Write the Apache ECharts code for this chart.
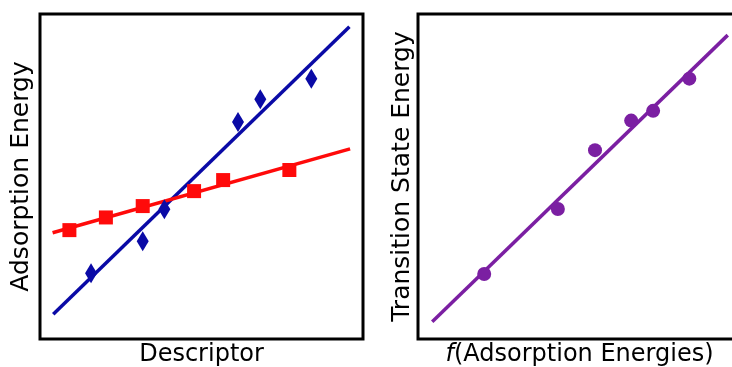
<!DOCTYPE html>
<html>
<head>
<meta charset="utf-8">
<style>
  html, body { margin: 0; padding: 0; background: #fff; }
  #chart { width: 732px; height: 367px; }
</style>
<script src="https://cdn.jsdelivr.net/npm/echarts@6/dist/echarts.min.js"></script>
</head>
<body>
<div id="chart"></div>
<script>
// Left panel: adsorption energies of two species against a descriptor
const diamondX = [15.8, 31.8, 38.5, 61.3, 68.2, 84.0];
const diamondY = [20.2, 30.1, 39.9, 66.8, 73.8, 80.1];
const squareX = [9.1, 20.4, 31.8, 47.7, 56.7, 77.2];
const squareY = [33.5, 37.4, 40.9, 45.5, 48.9, 52.0];
// Linear fits (start and end points)
const blueFitX = [4.1, 95.8];
const blueFitY = [7.6, 96.1];
const redFitX = [3.9, 96.0];
const redFitY = [32.7, 58.5];

// Right panel: transition state energy against a function of adsorption energies
const circleX = [20.5, 43.3, 54.8, 66.0, 72.8, 84.0];
const circleY = [20.0, 40.0, 58.1, 67.2, 70.2, 80.1];
const purpleFitX = [4.4, 95.9];
const purpleFitY = [5.3, 93.5];

const leftXName = 'Descriptor';
const leftYName = 'Adsorption Energy';
const rightXName = '{i|f}(Adsorption Energies)';
const rightYName = 'Transition State Energy';

const BLUE = '#0a0aa6';
const RED = '#ff0a0a';
const PURPLE = '#7b1fa2';
const FONT = 'DejaVu Sans';
const FS_X = 24;
const FS_Y = 25;

const pairs = (xs, ys) => xs.map((x, i) => [x, ys[i]]);

function makeX(gridIndex, name) {
  return {
    gridIndex, type: 'value', min: 0, max: 100,
    name, nameLocation: 'middle', nameGap: 4,
    nameTextStyle: {
      fontFamily: FONT, fontSize: FS_X, color: '#000',
      rich: { i: { fontFamily: FONT, fontSize: FS_X, fontStyle: 'italic', color: '#000' } }
    },
    axisLine: { show: false }, axisTick: { show: false },
    axisLabel: { show: false }, splitLine: { show: false }
  };
}
function makeY(gridIndex, name, gap) {
  return {
    gridIndex, type: 'value', min: 0, max: 100,
    name, nameLocation: 'middle', nameGap: gap, nameRotate: 90,
    nameTextStyle: { fontFamily: FONT, fontSize: FS_Y, color: '#000' },
    axisLine: { show: false }, axisTick: { show: false },
    axisLabel: { show: false }, splitLine: { show: false }
  };
}

const gridBase = {
  top: 14, height: 325, show: true, borderColor: '#000', borderWidth: 3,
  backgroundColor: 'transparent', containLabel: false, outerBoundsMode: 'none'
};

const chart = echarts.init(document.getElementById('chart'), null, { renderer: 'canvas' });
chart.setOption({
  animation: false,
  backgroundColor: '#fff',
  grid: [
    Object.assign({ left: 40, width: 323 }, gridBase),
    Object.assign({ left: 418, width: 323 }, gridBase)
  ],
  xAxis: [makeX(0, leftXName), makeX(1, rightXName)],
  yAxis: [makeY(0, leftYName, 6), makeY(1, rightYName, 3)],
  series: [
    { type: 'line', xAxisIndex: 0, yAxisIndex: 0, data: pairs(blueFitX, blueFitY), showSymbol: false, lineStyle: { color: BLUE, width: 3.5 }, z: 2 },
    { type: 'line', xAxisIndex: 0, yAxisIndex: 0, data: pairs(redFitX, redFitY), showSymbol: false, lineStyle: { color: RED, width: 3.5 }, z: 2 },
    { type: 'scatter', xAxisIndex: 0, yAxisIndex: 0, data: pairs(diamondX, diamondY), symbol: 'diamond', symbolSize: [12, 20], itemStyle: { color: BLUE, opacity: 1 }, z: 3 },
    { type: 'scatter', xAxisIndex: 0, yAxisIndex: 0, data: pairs(squareX, squareY), symbol: 'rect', symbolSize: 14, itemStyle: { color: RED, opacity: 1 }, z: 3 },
    { type: 'line', xAxisIndex: 1, yAxisIndex: 1, data: pairs(purpleFitX, purpleFitY), showSymbol: false, lineStyle: { color: PURPLE, width: 3.5 }, z: 2 },
    { type: 'scatter', xAxisIndex: 1, yAxisIndex: 1, data: pairs(circleX, circleY), symbol: 'circle', symbolSize: 14, itemStyle: { color: PURPLE, opacity: 1 }, z: 3 }
  ]
});
</script>
</body>
</html>
